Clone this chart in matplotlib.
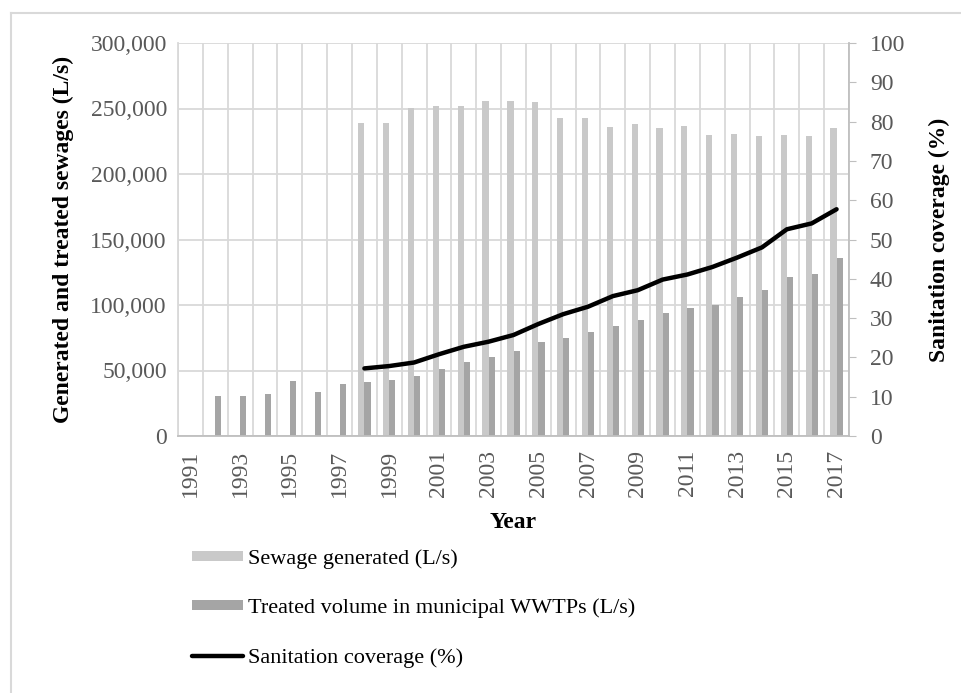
import numpy as np
import matplotlib.pyplot as plt
from matplotlib.lines import Line2D

plt.rcParams['font.family'] = ['Liberation Serif', 'DejaVu Serif']

# data
years = list(range(1991, 2018))
sewage_generated = [np.nan] * 7 + [239200, 239000, 250100, 252100, 252000, 255700, 255700,
                                   255200, 242500, 243000, 236100, 237900, 235300, 236600,
                                   229800, 230500, 229000, 229500, 229200, 235100]
treated_volume = [np.nan, 30500, 30800, 32100, 42000, 33800, 39400, 41000, 42500, 45800,
                  50900, 56200, 60300, 64700, 72000, 74500, 79600, 84000, 88500, 93900,
                  97900, 100200, 106300, 111500, 121100, 123900, 135900]
coverage = [np.nan] * 7 + [17.2, 17.8, 18.7, 20.8, 22.7, 24.0, 25.7, 28.5, 31.0, 32.9,
                           35.6, 37.1, 39.8, 41.1, 43.0, 45.4, 48.0, 52.6, 54.1, 57.7]

x = np.arange(len(years))
tick_grey = '#595959'
grid_grey = '#d9d9d9'
fs = 17

fig = plt.figure(figsize=(9.61, 6.93), dpi=100)
ax = fig.add_axes([178 / 961, 1 - 436 / 693, (849 - 178) / 961, (436 - 43) / 693])

b1 = ax.bar(x - 0.125, sewage_generated, width=0.25, color='#c9c9c9', zorder=2,
            label='Sewage generated (L/s)')
b2 = ax.bar(x + 0.125, treated_volume, width=0.25, color='#a5a5a5', zorder=2,
            label='Treated volume in municipal WWTPs (L/s)')

ax.set_xlim(-0.5, len(years) - 0.5)
ax.set_ylim(0, 300000)
ax.set_yticks(np.arange(0, 300001, 50000))
ax.set_yticklabels(['{:,}'.format(v) for v in range(0, 300001, 50000)])
ax.set_xticks(x[::2])
ax.set_xticklabels([str(y) for y in years[::2]], rotation=90)
ax.set_xticks(np.arange(-0.5, len(years), 1), minor=True)
ax.grid(axis='y', color=grid_grey, lw=1.3, zorder=0)
ax.grid(axis='x', which='minor', color=grid_grey, lw=1.3, zorder=0)
ax.tick_params(axis='both', which='both', length=0, labelsize=fs, labelcolor=tick_grey)
ax.tick_params(axis='y', pad=8)
ax.tick_params(axis='x', pad=10)
for s in ['top', 'right']:
    ax.spines[s].set_visible(False)
ax.spines['left'].set_color(grid_grey)
ax.spines['bottom'].set_color('#bfbfbf')
ax.spines['left'].set_linewidth(1.3)
ax.spines['bottom'].set_linewidth(1.3)
ax.set_xlabel('Year', fontsize=fs, fontweight='bold', labelpad=11)
ax.set_ylabel('Generated and treated sewages (L/s)', fontsize=fs, fontweight='bold', labelpad=12)

ax2 = ax.twinx()
ln, = ax2.plot(x, coverage, color='black', lw=3.2, solid_capstyle='round',
               label='Sanitation coverage (%)')
ax2.set_ylim(0, 100)
ax2.set_yticks(np.arange(0, 101, 10))
ax2.tick_params(axis='y', length=5, color='#bfbfbf', labelsize=fs, labelcolor=tick_grey, pad=10)
for s in ['top', 'left', 'bottom']:
    ax2.spines[s].set_visible(False)
ax2.spines['right'].set_color('#bfbfbf')
ax2.spines['right'].set_linewidth(1.3)
ax2.set_ylabel('Sanitation coverage (%)', fontsize=fs, fontweight='bold', labelpad=17)

fig.legend(handles=[b1, b2, ln], loc='upper left', bbox_to_anchor=(181 / 961, 1 - 538 / 693),
           frameon=False, fontsize=16, handlelength=2.3, handleheight=0.3,
           handletextpad=0.2, labelspacing=1.34, borderpad=0)

# chart-area border (only top and left edges visible in the source)
fig.add_artist(Line2D([11 / 961, 1], [1 - 13 / 693, 1 - 13 / 693], transform=fig.transFigure,
                      color='#d9d9d9', lw=1.5))
fig.add_artist(Line2D([11 / 961, 11 / 961], [0, 1 - 13 / 693], transform=fig.transFigure,
                      color='#d9d9d9', lw=1.5))

fig.savefig('out.png', dpi=100)
